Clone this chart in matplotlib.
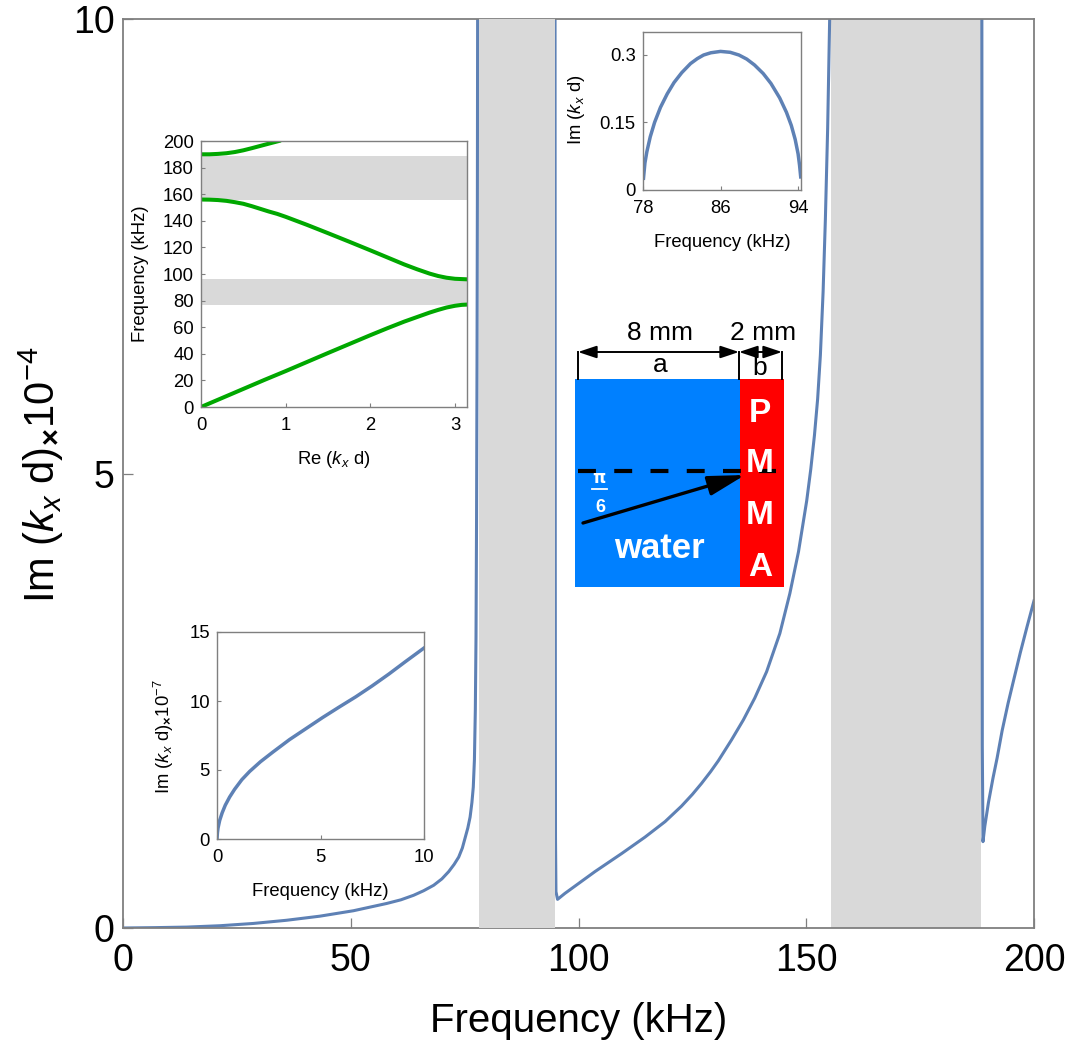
#!/usr/bin/env python3
"""Band gap figure: Im(kx d) against frequency with three insets and a unit cell sketch."""

import matplotlib

matplotlib.use("Agg")
import matplotlib.pyplot as plt
from matplotlib.patches import FancyArrowPatch, Rectangle

W, H = 1073, 1044

BLUE = "#5E81B5"
GREEN = "#00A800"
GRAY = "#D9D9D9"
FRAME = "#7F7F7F"

# main curve, three branches (kHz, Im x 1e4)
f_low = [0, 7, 14, 21.3, 28.6, 35.9, 43.2, 50.6, 57.9, 61, 63.8, 66, 68.2, 70, 71.5, 72.7, 73.7, 74.5, 75.1, 75.7, 76.2, 76.6, 76.9, 77.15, 77.35, 77.5, 77.62, 77.72, 77.8, 77.86]
im_low = [0, 0.004, 0.01, 0.025, 0.05, 0.085, 0.13, 0.19, 0.27, 0.31, 0.36, 0.41, 0.47, 0.54, 0.62, 0.7, 0.78, 0.88, 0.99, 1.1, 1.22, 1.38, 1.55, 1.85, 2.4, 3.2, 4.5, 6.2, 8.0, 10.3]
f_mid = [94.85, 94.9, 94.95, 95.05, 95.4, 97, 99.2, 103.6, 109.5, 114.6, 119, 122.6, 125, 127, 129, 130.7, 133.6, 136.2, 138.7, 141.3, 144.2, 146.4, 148.3, 150.1, 151, 151.8, 152.5, 153.1, 153.7, 154.2, 154.7, 155.25]
im_mid = [10.3, 4.0, 1.0, 0.4, 0.315, 0.38, 0.46, 0.62, 0.82, 1.0, 1.17, 1.34, 1.47, 1.59, 1.72, 1.84, 2.07, 2.29, 2.53, 2.82, 3.24, 3.68, 4.14, 4.7, 5.05, 5.42, 5.82, 6.3, 7.0, 7.8, 8.8, 10.3]
f_high = [188.55, 188.6, 188.65, 188.8, 189.2, 190, 191, 191.9, 193, 194.3, 195.5, 197, 198.5, 200]
im_high = [10.3, 6.0, 2.0, 0.95, 1.12, 1.38, 1.65, 1.87, 2.17, 2.47, 2.72, 3.03, 3.32, 3.6]
gap_low = (78.2, 94.8)
gap_high = (155.4, 188.4)

# dispersion inset
re_band1 = [0, 0.25, 0.5, 0.75, 1, 1.25, 1.5, 1.75, 2, 2.2, 2.4, 2.55, 2.7, 2.8, 2.9, 3.0, 3.08, 3.1416]
fr_band1 = [0, 6.8, 13.6, 20.4, 27, 33.8, 40.6, 47.3, 54, 59.2, 64.2, 67.6, 71, 73, 74.8, 76.1, 76.8, 77]
re_band2 = [0, 0.1, 0.2, 0.3, 0.4, 0.5, 0.6, 0.7, 0.8, 0.9, 1, 1.25, 1.5, 1.75, 2, 2.2, 2.4, 2.55, 2.7, 2.8, 2.9, 3.0, 3.1416]
fr_band2 = [156, 155.9, 155.6, 155, 154, 152.8, 151, 149, 147, 145.2, 143, 137, 130.7, 124.3, 117.8, 112.5, 107.2, 103.6, 100.3, 98.5, 97.2, 96.4, 96]
re_band3 = [0, 0.1, 0.2, 0.3, 0.4, 0.5, 0.6, 0.7, 0.8, 0.92]
fr_band3 = [190, 190, 190.3, 190.8, 191.7, 193, 194.6, 196.3, 198, 200]
gap_disp = [(76.5, 96), (156, 189)]

# top right inset
f_gap = [78.05, 78.2, 78.4, 78.75, 79.2, 79.8, 80.5, 81.2, 82, 82.9, 83.6, 84.25, 85, 86, 87, 87.9, 88.7, 89.5, 90.4, 91.2, 92.1, 92.8, 93.3, 93.7, 94, 94.15, 94.27]
im_gap = [0.026, 0.06, 0.085, 0.118, 0.15, 0.183, 0.213, 0.238, 0.26, 0.28, 0.291, 0.299, 0.304, 0.307, 0.305, 0.299, 0.29, 0.277, 0.258, 0.236, 0.204, 0.172, 0.143, 0.112, 0.08, 0.055, 0.029]

# bottom left inset
f_small = [0, 0.02, 0.05, 0.13, 0.25, 0.4, 0.61, 0.85, 1.2, 1.58, 2.1, 2.7, 3.5, 4.3, 5.1, 5.9, 6.7, 7.5, 8.3, 9.1, 10]
im_small = [0, 0.45, 0.8, 1.35, 1.9, 2.45, 3.04, 3.6, 4.3, 4.9, 5.6, 6.3, 7.2, 8.0, 8.8, 9.56, 10.3, 11.1, 11.95, 12.85, 13.84]

plt.rcParams.update(
    {
        "font.family": "Liberation Sans",
        "mathtext.fontset": "custom",
        "mathtext.rm": "Liberation Sans",
        "mathtext.it": "Liberation Sans:italic",
        "mathtext.bf": "Liberation Sans:bold",
        "axes.edgecolor": FRAME,
        "xtick.color": FRAME,
        "ytick.color": FRAME,
        "xtick.direction": "in",
        "ytick.direction": "in",
        "xtick.labelcolor": "black",
        "ytick.labelcolor": "black",
    }
)


def px_axes(fig, left, top, right, bottom, **kwargs):
    return fig.add_axes([left / W, 1 - bottom / H, (right - left) / W, (bottom - top) / H], **kwargs)


def style_inset(ax, xlabel, ylabel, xpos, ypos, size=13.3):
    ax.tick_params(labelsize=size, length=2.8, width=0.8)
    ax.tick_params(axis="x", pad=7.5)
    ax.tick_params(axis="y", pad=5.2)
    ax.set_xlabel(xlabel, fontsize=size)
    ax.set_ylabel(ylabel, fontsize=size)
    ax.xaxis.set_label_coords(*xpos)
    ax.yaxis.set_label_coords(*ypos)
    for spine in ax.spines.values():
        spine.set_linewidth(1.0)


fig = plt.figure(figsize=(W / 100, H / 100), dpi=100, facecolor="white")

ax = px_axes(fig, 123, 19, 1034, 928)
ax.axvspan(*gap_high, color=GRAY, lw=0, zorder=1)
ax.plot(f_low, im_low, color=BLUE, lw=2.2, zorder=2)
ax.plot(f_mid, im_mid, color=BLUE, lw=2.2, zorder=2)
ax.plot(f_high, im_high, color=BLUE, lw=2.2, zorder=2)
ax.axvspan(*gap_low, color=GRAY, lw=0, zorder=3)
ax.set_xlim(0, 200)
ax.set_ylim(0, 10)
ax.set_xticks([0, 50, 100, 150, 200])
ax.set_yticks([0, 5, 10])
ax.tick_params(labelsize=27, length=7, width=0.9)
ax.tick_params(axis="x", pad=10.5)
ax.tick_params(axis="y", pad=6)
ax.set_xlabel("Frequency (kHz)", fontsize=29)
ax.set_ylabel(r"Im ($k_x$ d)$_{\mathbf{\times}}$10$^{-4}$", fontsize=30)
ax.xaxis.set_label_coords(0.5, -0.081)
ax.yaxis.set_label_coords(-0.063, 0.498)
for spine in ax.spines.values():
    spine.set_linewidth(1.3)

# dispersion inset
ins1 = px_axes(fig, 201, 141, 467, 407)
for lo, hi in gap_disp:
    ins1.axhspan(lo, hi, color=GRAY, lw=0, zorder=1)
ins1.plot(re_band1, fr_band1, color=GREEN, lw=2.9, zorder=2)
ins1.plot(re_band2, fr_band2, color=GREEN, lw=2.9, zorder=2)
ins1.plot(re_band3, fr_band3, color=GREEN, lw=2.9, zorder=2)
ins1.set_xlim(0, 3.1416)
ins1.set_ylim(0, 200)
ins1.set_xticks([0, 1, 2, 3])
ins1.set_yticks(range(0, 201, 20))
style_inset(ins1, r"Re ($k_x$ d)", "Frequency (kHz)", (0.5, -0.158), (-0.197, 0.5))

# top right inset
ins2 = px_axes(fig, 643, 32, 801, 190)
ins2.plot(f_gap, im_gap, color=BLUE, lw=2.5)
ins2.set_xlim(78, 94.3)
ins2.set_ylim(0, 0.35)
ins2.set_xticks([78, 86, 94])
ins2.set_yticks([0, 0.15, 0.3])
ins2.set_yticklabels(["0", "0.15", "0.3"])
style_inset(ins2, "Frequency (kHz)", r"Im ($k_x$ d)", (0.5, -0.278), (-0.355, 0.506))

# bottom left inset
ins3 = px_axes(fig, 217, 632, 424, 839)
ins3.plot(f_small, im_small, color=BLUE, lw=2.5)
ins3.set_xlim(0, 10)
ins3.set_ylim(0, 15)
ins3.set_xticks([0, 5, 10])
ins3.set_yticks([0, 5, 10, 15])
style_inset(ins3, "Frequency (kHz)", r"Im ($k_x$ d)$_{\mathbf{\times}}$10$^{-7}$", (0.5, -0.213), (-0.198, 0.495))

# unit cell sketch, in pixel coordinates of the figure
sk = fig.add_axes([0, 0, 1, 1], zorder=10)
sk.set_xlim(0, W)
sk.set_ylim(H, 0)
sk.axis("off")
sk.add_patch(Rectangle((575, 379), 165, 208, facecolor="#0080FF", edgecolor="none"))
sk.add_patch(Rectangle((740, 379), 44, 208, facecolor="#FF0000", edgecolor="none"))

for x in (578, 739, 782):
    sk.plot([x, x], [352, 379], color="black", lw=1.4)
dim_head = "<|-|>,head_length=0.75,head_width=0.25"
for x0, x1 in ((578, 739), (739, 782)):
    sk.add_patch(FancyArrowPatch((x0, 352), (x1, 352), arrowstyle=dim_head, mutation_scale=15, color="black", lw=1.4, shrinkA=0, shrinkB=0))
sk.text(660, 333, "8 mm", fontsize=19, ha="center", va="center")
sk.text(763, 333, "2 mm", fontsize=19, ha="center", va="center")
sk.text(660, 365, "a", fontsize=19, ha="center", va="center")
sk.text(760, 368, "b", fontsize=19, ha="center", va="center")
for letter, y in zip("PMMA", (414, 464, 515, 567)):
    sk.text(760, y, letter, color="white", fontsize=24, fontweight="bold", ha="center", va="center")
sk.text(659, 548, "water", color="white", fontsize=25, fontweight="bold", ha="center", va="center")
sk.plot([578, 776], [471, 471], color="black", lw=3, dashes=(4.3, 4.4))
sk.add_patch(FancyArrowPatch((583, 523), (745, 475), arrowstyle="-|>,head_length=0.75,head_width=0.2", mutation_scale=30, color="black", lw=2.4, shrinkA=0, shrinkB=0))
sk.text(599, 478, "π", color="white", fontsize=12, fontweight="bold", family="DejaVu Sans", ha="center", va="center")
sk.plot([592, 607], [489, 489], color="white", lw=1.3)
sk.text(600, 508, "6", color="white", fontsize=13, fontweight="bold", ha="center", va="center")

fig.savefig("out.png", dpi=100, facecolor="white")
